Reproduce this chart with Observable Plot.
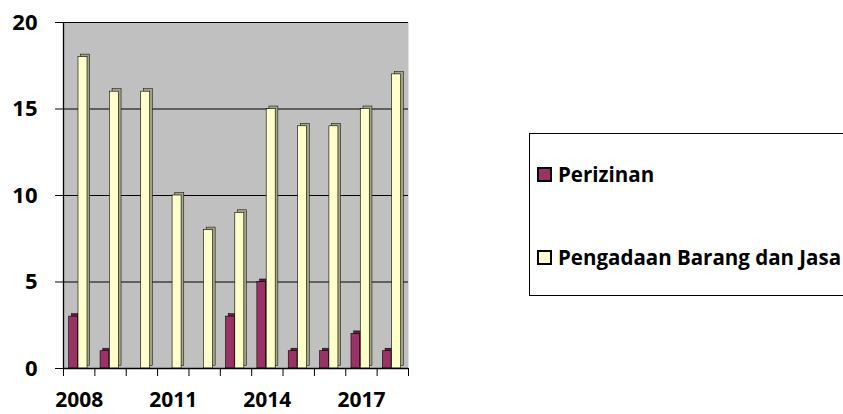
<!DOCTYPE html>
<html>
<head>
<meta charset="utf-8">
<script src="https://cdn.jsdelivr.net/npm/d3@7"></script>
<script src="https://cdn.jsdelivr.net/npm/@observablehq/plot@0.6"></script>
<style>
  html, body { margin: 0; padding: 0; background: #fff; overflow: hidden; }
  #wrap { position: relative; width: 843px; height: 414px; overflow: hidden; font-family: "Open Sans", sans-serif; }
  #legend { position: absolute; left: 529px; top: 133px; width: 340px; height: 163px; border: 1.3px solid #000; box-sizing: border-box; background: #fff; }
  .item { position: absolute; left: 7px; display: flex; align-items: center; font-weight: 700; font-size: 20.5px; color: #000; white-space: nowrap; line-height: 1; }
  .sw { width: 11px; height: 11px; border: 2px solid #000; margin-right: 6px; }
</style>
</head>
<body>
<div id="wrap">
  <div id="chart"></div>
  <div id="legend">
    <div class="item" style="top:30px"><span class="sw" style="background:#993366"></span>Perizinan</div>
    <div class="item" style="top:113px"><span class="sw" style="background:#FFFFCC"></span>Pengadaan Barang dan Jasa</div>
  </div>
</div>
<script>
const years = [2008, 2009, 2010, 2011, 2012, 2013, 2014, 2015, 2016, 2017, 2018];
const perizinan = [3, 1, 0, 0, 0, 3, 5, 1, 1, 2, 1];
const pengadaan = [18, 16, 16, 10, 8, 9, 15, 14, 14, 15, 17];
const yTicks = [0, 5, 10, 15, 20];
const xLabels = [2008, 2011, 2014, 2017];

const W = 843, H = 414, mL = 63, mR = 435, mT = 22, mB = 46;
const bw = (W - mL - mR) / years.length;

const dataP = years.map((y, i) => ({year: y, value: perizinan[i]}));
const dataJ = years.map((y, i) => ({year: y, value: pengadaan[i]}));

const pOpt = {x: "year", y: "value", insetLeft: 5.7, insetRight: bw - 14.4};
const jOpt = {x: "year", y: "value", insetLeft: 15, insetRight: bw - 24};

const chart = Plot.plot({
  width: W, height: H,
  marginLeft: mL, marginRight: mR, marginTop: mT, marginBottom: mB,
  style: {fontFamily: "'Open Sans', sans-serif", background: "transparent", color: "#000", overflow: "visible"},
  x: {type: "band", domain: years, padding: 0, round: false, label: null},
  y: {domain: [0, 20], label: null},
  marks: [
    Plot.frame({fill: "#C0C0C0", stroke: null}),
    Plot.gridY(yTicks.filter(d => d > 0), {stroke: "#000", strokeOpacity: 1, strokeWidth: 1.2}),
    // 3D depth of bars
    Plot.barY(dataP, {...pOpt, dx: 2.7, dy: -2.5, fill: "#5e1f40", stroke: "#000", strokeWidth: 0.5}),
    Plot.barY(dataJ, {...jOpt, dx: 2.7, dy: -2.5, fill: "#a3a382", stroke: "#000", strokeWidth: 0.5}),
    // front faces
    Plot.barY(dataP, {...pOpt, fill: "#993366", stroke: "#000", strokeWidth: 0.6}),
    Plot.barY(dataJ, {...jOpt, fill: "#FFFFCC", stroke: "#000", strokeWidth: 0.6}),
    Plot.ruleY([0], {stroke: "#000", strokeWidth: 1.3}),
    Plot.tickX([years[0]], {x: d => d, dx: -bw / 2, stroke: "#000", strokeWidth: 1.3}),
    Plot.axisY({ticks: yTicks, tickSize: 8, tickPadding: 18, fontSize: 22, fontWeight: 700, stroke: "#000", tickFormat: d => d}),
    Plot.axisX(years, {text: null, tickSize: 8, dx: -bw / 2, stroke: "#000"}),
    Plot.axisX([years[years.length - 1]], {text: null, tickSize: 8, dx: bw / 2, stroke: "#000"}),
    Plot.axisX({ticks: xLabels, tickSize: 0, tickPadding: 0, lineAnchor: "middle", dy: 32, fontSize: 21, fontWeight: 700, tickFormat: d => String(d)})
  ]
});
document.getElementById("chart").appendChild(chart);
</script>
</body>
</html>
